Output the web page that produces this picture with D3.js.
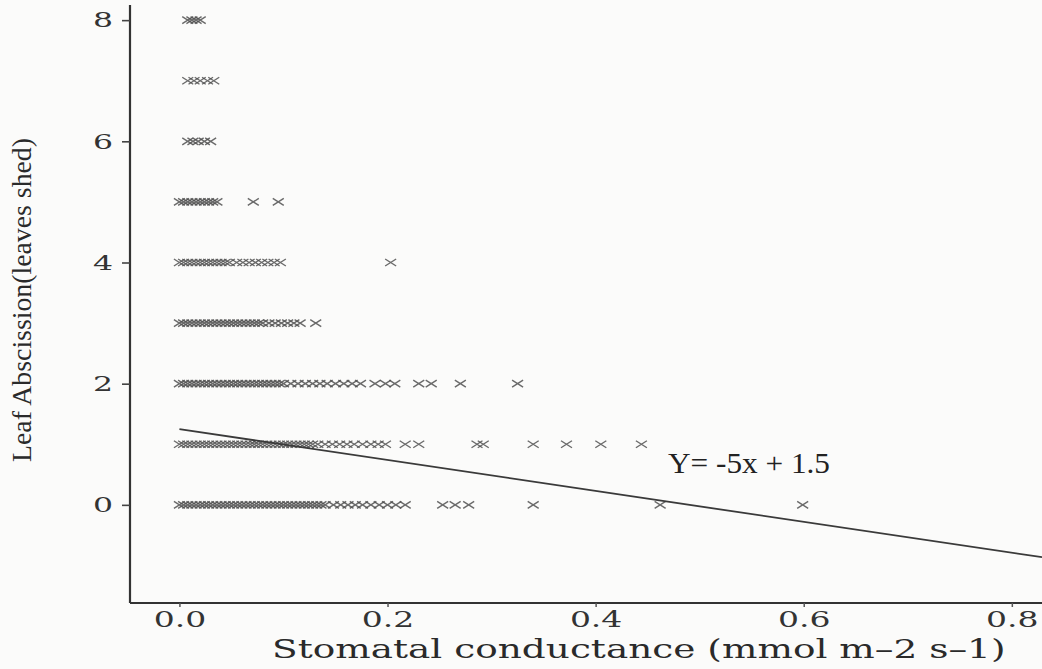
<!DOCTYPE html>
<html>
<head>
<meta charset="utf-8">
<script src="https://cdn.jsdelivr.net/npm/d3@7"></script>
<style>
  body { margin: 0; background: #fbfbfa; }
  svg { display: block; }
</style>
</head>
<body>
<div id="chart"></div>
<script>
const width = 1042;
const height = 669;

// leaves shed (y) levels and the stomatal conductance readings at each level
const shed8 = [0.008, 0.012, 0.016, 0.020];
const shed7 = [0.008, 0.014, 0.020, 0.027, 0.033];
const shed6 = [0.008, 0.013, 0.018, 0.024, 0.030];
const shed5 = [0.000, 0.004, 0.008, 0.012, 0.016, 0.020, 0.024, 0.028, 0.032, 0.036, 0.071, 0.095];
const shed4 = [0.000, 0.004, 0.008, 0.012, 0.016, 0.020, 0.024, 0.028, 0.032, 0.036, 0.040, 0.044, 0.048,
  0.055, 0.061, 0.067, 0.073, 0.079, 0.085, 0.091, 0.097, 0.203];
const shed3 = [0.000, 0.004, 0.008, 0.012, 0.016, 0.020, 0.024, 0.028, 0.032, 0.036, 0.040, 0.044, 0.048,
  0.052, 0.056, 0.060, 0.064, 0.068, 0.072, 0.076, 0.080, 0.086, 0.092, 0.098, 0.104, 0.110, 0.116, 0.131];
const shed2 = [0.000, 0.004, 0.008, 0.012, 0.016, 0.020, 0.024, 0.028, 0.032, 0.036, 0.040, 0.044, 0.048,
  0.052, 0.056, 0.060, 0.064, 0.068, 0.072, 0.076, 0.080, 0.084, 0.088, 0.092, 0.096, 0.100,
  0.107, 0.114, 0.121, 0.128, 0.135, 0.142, 0.150, 0.158, 0.166, 0.174,
  0.188, 0.198, 0.207, 0.230, 0.242, 0.270, 0.325];
const shed1 = [0.000, 0.004, 0.008, 0.012, 0.016, 0.020, 0.024, 0.028, 0.032, 0.036, 0.040, 0.044, 0.048,
  0.052, 0.056, 0.060, 0.064, 0.068, 0.072, 0.076, 0.080, 0.084, 0.088, 0.092, 0.096, 0.100,
  0.104, 0.108, 0.112, 0.116, 0.120, 0.124, 0.128, 0.133,
  0.140, 0.147, 0.154, 0.161, 0.168, 0.176, 0.184, 0.191, 0.198,
  0.217, 0.230, 0.286, 0.292, 0.340, 0.372, 0.405, 0.444];
const shed0 = [0.000, 0.004, 0.008, 0.012, 0.016, 0.020, 0.024, 0.028, 0.032, 0.036, 0.040, 0.044, 0.048,
  0.052, 0.056, 0.060, 0.064, 0.068, 0.072, 0.076, 0.080, 0.084, 0.088, 0.092, 0.096, 0.100,
  0.104, 0.108, 0.112, 0.116, 0.120, 0.124, 0.128, 0.132, 0.136, 0.140,
  0.148, 0.155, 0.162, 0.169, 0.176, 0.184, 0.192, 0.200, 0.208, 0.217,
  0.253, 0.265, 0.278, 0.340, 0.462, 0.599];
const levels = [0, 1, 2, 3, 4, 5, 6, 7, 8];
const series = [shed0, shed1, shed2, shed3, shed4, shed5, shed6, shed7, shed8];

// fitted line as drawn, and the label printed on the chart
const fitIntercept = 1.25;
const fitSlope = -2.55;
const fitRange = [0, 0.829];
const fitLabel = 'Y= -5x + 1.5';

const xTicks = [0, 0.2, 0.4, 0.6, 0.8];
const yTicks = [0, 2, 4, 6, 8];
const xTitle = 'Stomatal conductance (mmol m\u20132 s\u20131)';
const yTitle = 'Leaf Abscission(leaves shed)';

// the scanned figure is stretched sideways, so horizontal text gets widened
const stretch = 1.5;

const x = d3.scaleLinear().domain([-0.0475, 0.829]).range([130, 1042]);
const y = d3.scaleLinear().domain([-1.62, 8.25]).range([603, 5]);

const svg = d3.select('#chart')
  .append('svg')
  .attr('width', width)
  .attr('height', height);

svg.append('rect')
  .attr('width', width)
  .attr('height', height)
  .attr('fill', '#fbfbfa');

// points
let points = [];
series.forEach((vals, i) => {
  vals.forEach(v => points.push({ x: v, y: levels[i] }));
});

svg.append('g')
  .attr('id', 'points')
  .selectAll('path')
  .data(points)
  .enter()
  .append('path')
  .attr('transform', d => `translate(${x(d.x)},${y(d.y)})`)
  .attr('d', 'M-5.5,-3.5L5.5,3.5M-5.5,3.5L5.5,-3.5')
  .attr('stroke', '#505050')
  .attr('stroke-width', 1.4)
  .attr('stroke-opacity', 0.85)
  .attr('fill', 'none');

// fitted line
const line = d3.line().x(d => x(d)).y(d => y(fitIntercept + fitSlope * d));
svg.append('path')
  .attr('d', line(fitRange))
  .attr('stroke', '#3a3a3a')
  .attr('stroke-width', 1.8)
  .attr('fill', 'none');

svg.append('text')
  .attr('x', 668)
  .attr('y', 473)
  .attr('font-family', 'Liberation Serif')
  .attr('font-size', 30)
  .attr('fill', '#222')
  .attr('textLength', 162)
  .attr('lengthAdjust', 'spacingAndGlyphs')
  .text(fitLabel);

// axes
const xAxis = svg.append('g')
  .attr('transform', 'translate(0,603)')
  .call(d3.axisBottom(x).tickValues(xTicks).tickSize(4).tickPadding(4).tickFormat(d3.format('.1f')));
xAxis.select('.domain').attr('stroke', '#333').attr('stroke-width', 2.2).attr('d', 'M130,0H1042');
xAxis.selectAll('.tick line').attr('stroke', '#555').attr('stroke-width', 1.5);
xAxis.selectAll('.tick text')
  .attr('font-family', 'DejaVu Serif')
  .attr('font-size', 22)
  .attr('transform', `scale(${stretch},1)`)
  .attr('fill', '#333');

const yAxis = svg.append('g')
  .attr('transform', 'translate(130,0)')
  .call(d3.axisLeft(y).tickValues(yTicks).tickSize(8).tickPadding(8).tickFormat(d3.format('d')));
yAxis.select('.domain').attr('stroke', '#333').attr('stroke-width', 2.2).attr('d', 'M0,5V603');
yAxis.selectAll('.tick line').attr('stroke', '#444').attr('stroke-width', 1.6);
yAxis.selectAll('.tick text')
  .attr('font-family', 'DejaVu Serif')
  .attr('font-size', 21)
  .attr('x', -17 / stretch)
  .attr('transform', `scale(${stretch},1)`)
  .attr('fill', '#333');

// titles
svg.append('text')
  .attr('transform', 'translate(272,658) scale(1.44,1)')
  .attr('font-family', 'DejaVu Serif')
  .attr('font-size', 26)
  .attr('fill', '#2a2a2a')
  .text(xTitle);

svg.append('text')
  .attr('transform', 'translate(31,462) rotate(-90)')
  .attr('font-family', 'Liberation Serif')
  .attr('font-size', 28)
  .attr('fill', '#2a2a2a')
  .attr('textLength', 324)
  .attr('lengthAdjust', 'spacingAndGlyphs')
  .text(yTitle);
</script>
</body>
</html>
